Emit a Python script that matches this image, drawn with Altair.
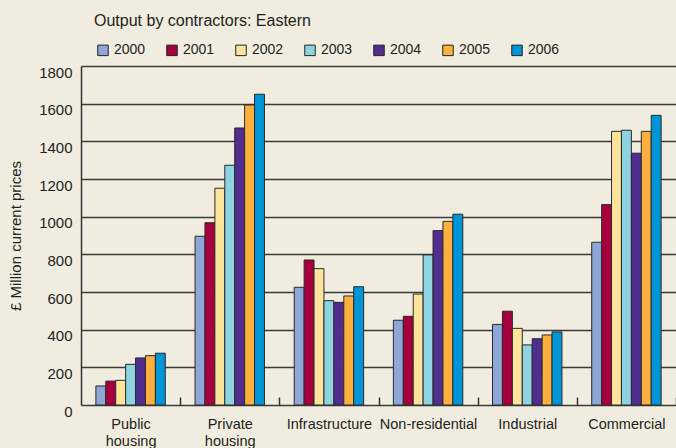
import altair as alt
import pandas as pd

categories = ["Public housing", "Private housing", "Infrastructure",
              "Non-residential", "Industrial", "Commercial"]
years = ["2000", "2001", "2002", "2003", "2004", "2005", "2006"]
colors = ["#8fa7d6", "#a6003f", "#fde49c", "#8ed3e2", "#512d90", "#fbb040", "#0095d6"]

v2000 = [101, 896, 625, 450, 428, 864]
v2001 = [127, 968, 770, 471, 498, 1064]
v2002 = [131, 1151, 724, 589, 407, 1453]
v2003 = [216, 1273, 554, 797, 319, 1459]
v2004 = [250, 1471, 545, 926, 352, 1337]
v2005 = [262, 1593, 579, 975, 372, 1453]
v2006 = [275, 1650, 628, 1013, 388, 1538]

series = [v2000, v2001, v2002, v2003, v2004, v2005, v2006]
rows = []
for yr, vals in zip(years, series):
    for cat, v in zip(categories, vals):
        rows.append({"category": cat, "year": yr, "value": v})
df = pd.DataFrame(rows)

FONT = "Liberation Sans"
TXT = "#231f20"
W = 595
STEP = W / len(categories)

chart = alt.Chart(df).mark_bar(stroke="#2a2a2a", strokeWidth=1).encode(
    x=alt.X("category:N", sort=categories,
            scale=alt.Scale(paddingInner=0.3, paddingOuter=0.15),
            axis=alt.Axis(title=None, labelAngle=0, offset=-8, tickSize=8,
                          tickOffset=STEP / 2, labelOffset=-STEP / 2,
                          domain=False, tickColor="#333333",
                          tickWidth=1.5, labelPadding=12, labelFontSize=14.5,
                          labelColor=TXT, labelFont=FONT, labelLineHeight=17,
                          labelBaseline="top",
                          labelExpr="(datum.label == 'Public housing' || datum.label == 'Private housing') ? split(datum.label, ' ') : datum.label")),
    xOffset=alt.XOffset("year:N", sort=years,
                        scale=alt.Scale(paddingInner=0, paddingOuter=0)),
    y=alt.Y("value:Q", scale=alt.Scale(domain=[0, 1800], nice=False),
            axis=alt.Axis(values=list(range(0, 1801, 200)), format="d",
                          title="£ Million current prices",
                          grid=True, gridColor="#3a3a3a", gridWidth=1.5,
                          ticks=False, domainColor="#333333", domainWidth=1.5,
                          labelFontSize=15, labelPadding=9, labelOffset=6,
                          labelColor=TXT, labelFont=FONT,
                          titleFontSize=15, titleFontWeight="normal",
                          titleColor=TXT, titleFont=FONT, titlePadding=15)),
    color=alt.Color("year:N", sort=years,
                    scale=alt.Scale(domain=years, range=colors),
                    legend=alt.Legend(title=None, orient="none", direction="horizontal",
                                      legendX=15, legendY=-23,
                                      symbolType="square", symbolSize=110,
                                      symbolStrokeColor="#222222", symbolStrokeWidth=1,
                                      symbolOpacity=1, labelFontSize=14,
                                      labelColor=TXT, labelFont=FONT,
                                      labelOffset=4, columnPadding=18)),
).properties(
    width=W, height=339,
    title=alt.TitleParams("Output by contractors: Eastern", anchor="start",
                          frame="group", dx=13, dy=-10, fontSize=16, fontWeight="normal",
                          color=TXT, font=FONT),
    autosize=alt.AutoSizeParams(type="none"),
    padding={"left": 81, "top": 66, "right": 0, "bottom": 43},
    background="#f0ecdf",
).configure_view(stroke=None)

chart.save("out.html", embed_options={"renderer": "svg", "actions": False})
